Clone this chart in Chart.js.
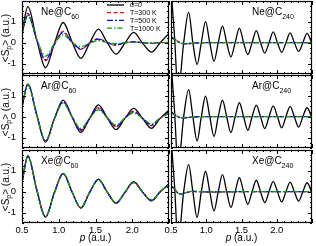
<!DOCTYPE html>
<html>
<head>
<meta charset="utf-8">
<script src="https://cdn.jsdelivr.net/npm/chart.js@4.4.1/dist/chart.umd.min.js"></script>
<style>
body { margin: 0; background: #fff; }
#fig { position: relative; width: 316px; height: 246px; overflow: hidden; font-family: 'Liberation Sans', Arial, sans-serif; color: #000; }
#fig canvas { position: absolute; }
.lbl { position: absolute; font-size: 10px; line-height: 10px; white-space: nowrap; }
.lbl sub { font-size: 7px; vertical-align: -4px; line-height: 0; }
.ytitle { position: absolute; font-size: 10px; line-height: 10px; white-space: nowrap; transform: translate(-50%, -50%) rotate(-90deg); }
.ytitle sub { font-size: 7px; vertical-align: -2px; line-height: 0; }
.xtitle { position: absolute; font-size: 10px; line-height: 10px; white-space: nowrap; transform: translateX(-50%); }
</style>
</head>
<body>
<div id="fig"></div>
<script>
// ---- data ----
const legendLabels = ['α=0', 'T=300 K', 'T=500 K', 'T=1000 K'];
const xTickLabels = [0.5, 1, 1.5, 2];
const yTickLabels = [-1, 0, 1];

// C60 panels: momentum grid (extrema + zero crossings)
const pLeft = [0.5, 0.58, 0.70, 0.82, 0.94, 1.06, 1.18, 1.30, 1.42, 1.54, 1.66, 1.78, 1.90, 2.02, 2.14, 2.26, 2.38, 2.50];
const neC60_a0    = [0.5, 1.73, 0.15, -1.2, -0.05, 0.97, 0.05, -0.75, -0.02, 0.65, 0.0, -0.55, -0.02, 0.5, -0.02, -0.45, 0.0, 0.45];
const neC60_T300  = [0.45, 1.41, 0.15, -0.86, -0.08, 0.54, 0.02, -0.32, -0.02, 0.2, 0.0, -0.12, 0.0, 0.05, 0.0, -0.03, 0.0, 0.01];
const neC60_T500  = [0.45, 1.35, 0.15, -0.82, -0.08, 0.49, 0.02, -0.3, -0.02, 0.17, 0.0, -0.1, 0.0, 0.04, 0.0, -0.02, 0.0, 0.01];
const neC60_T1000 = [0.45, 1.30, 0.18, -0.65, -0.05, 0.38, 0.02, -0.2, -0.02, 0.1, 0.0, -0.05, 0.0, 0.02, 0.0, -0.01, 0.0, 0.0];

const arC60_a0    = [0.5, 1.56, 0.1, -1.22, -0.1, 0.80, 0.0, -0.75, -0.08, 0.57, -0.05, -0.62, -0.08, 0.40, -0.08, -0.56, -0.08, 0.32];
const arC60_T300  = [0.5, 1.56, 0.1, -1.2, -0.1, 0.74, 0.0, -0.66, -0.08, 0.46, -0.05, -0.5, -0.07, 0.27, -0.07, -0.43, -0.07, 0.22];
const arC60_T500  = [0.5, 1.55, 0.1, -1.18, -0.1, 0.71, 0.0, -0.62, -0.08, 0.41, -0.05, -0.46, -0.07, 0.23, -0.07, -0.4, -0.07, 0.2];
const arC60_T1000 = [0.5, 1.52, 0.1, -1.15, -0.1, 0.65, 0.0, -0.56, -0.08, 0.33, -0.05, -0.4, -0.07, 0.18, -0.07, -0.35, -0.07, 0.16];

const xeC60_a0    = [0.45, 1.72, 0.1, -1.22, -0.05, 0.88, 0.0, -0.79, -0.03, 0.6, -0.02, -0.56, -0.03, 0.48, -0.02, -0.44, 0.0, 0.38];
const xeC60_T300  = [0.45, 1.71, 0.1, -1.21, -0.05, 0.87, 0.0, -0.77, -0.03, 0.58, -0.02, -0.54, -0.03, 0.46, -0.02, -0.42, 0.0, 0.36];
const xeC60_T500  = [0.45, 1.71, 0.1, -1.2, -0.05, 0.86, 0.0, -0.76, -0.03, 0.57, -0.02, -0.53, -0.03, 0.45, -0.02, -0.41, 0.0, 0.35];
const xeC60_T1000 = [0.45, 1.70, 0.1, -1.19, -0.05, 0.85, 0.0, -0.75, -0.03, 0.56, -0.02, -0.52, -0.03, 0.44, -0.02, -0.4, 0.0, 0.34];

// C240 panels: static curve on a fine grid, thermal curves on a coarse one
const pRight = [0.5, 0.55, 0.6, 0.68, 0.75, 0.81, 0.87, 0.93, 0.99, 1.05, 1.11, 1.17, 1.23, 1.29, 1.35, 1.41, 1.47, 1.53, 1.59, 1.65, 1.71, 1.77, 1.83, 1.89, 1.95, 2.01, 2.07, 2.13, 2.19, 2.25, 2.31, 2.37, 2.43, 2.5];
const pRightT = [0.5, 0.55, 0.6, 0.65, 0.7, 0.8, 0.9, 1.0, 1.5, 2.0, 2.5];

const neC240_a0    = [2.6, 0.3, -2.4, 0, 1.45, 0, -1.05, 0, 1.01, 0, -0.89, 0, 0.81, 0, -0.68, 0, 0.7, 0, -0.57, 0, 0.58, 0, -0.5, 0, 0.52, 0, -0.46, 0, 0.47, 0, -0.42, 0, 0.45, -0.05];
const neC240_T300  = [0.28, 0.2, 0.06, -0.03, -0.05, -0.03, -0.01, 0, 0, 0, 0];
const neC240_T500  = [0.26, 0.18, 0.05, -0.03, -0.05, -0.03, -0.01, 0, 0, 0, 0];
const neC240_T1000 = [0.22, 0.15, 0.04, -0.03, -0.04, -0.03, -0.01, 0, 0, 0, 0];

const arC240_a0    = [2.6, 0.3, -2.4, 0, 1.3, 0, -1.16, 0, 0.98, 0, -0.95, 0, 0.79, 0, -0.76, 0, 0.67, 0, -0.65, 0, 0.56, 0, -0.57, 0, 0.52, 0, -0.53, 0, 0.5, 0, -0.5, 0, 0.43, -0.05];
const arC240_T300  = [0.22, 0.12, 0.0, -0.06, -0.05, -0.02, 0, 0, 0, 0, 0];
const arC240_T500  = [0.2, 0.11, 0.0, -0.06, -0.05, -0.02, 0, 0, 0, 0, 0];
const arC240_T1000 = [0.18, 0.1, 0.0, -0.05, -0.04, -0.02, 0, 0, 0, 0, 0];

const xeC240_a0    = [2.6, 0.3, -2.4, 0, 1.3, 0, -1.24, 0, 0.98, 0, -0.92, 0, 0.82, 0, -0.76, 0, 0.67, 0, -0.6, 0, 0.55, 0, -0.52, 0, 0.5, 0, -0.49, 0, 0.46, 0, -0.45, 0, 0.43, -0.05];
const xeC240_T300  = [0.3, 0.15, -0.08, -0.13, -0.06, 0.02, 0, -0.02, 0, 0, 0];
const xeC240_T500  = [0.29, 0.14, -0.08, -0.12, -0.06, 0.02, 0, -0.01, 0, 0, 0];
const xeC240_T1000 = [0.28, 0.13, -0.07, -0.12, -0.05, 0.02, 0, -0.01, 0, 0, 0];

// ---- styling ----
const SERIES = [
    { color: '#000000', dash: [], order: 4 },
    { color: '#ff0000', dash: [4, 2.5], order: 3 },
    { color: '#0000ff', dash: [6, 2, 2, 2], order: 2 },
    { color: '#00a000', dash: [5, 2, 1.5, 2], order: 1 }
];
const FONT = "'Liberation Sans', Arial, sans-serif";
const ROW_TOP = [1, 75, 150];
const PLOT_H = 73;
const COL_PLOT = [{ left: 22, right: 169 }, { left: 171, right: 312 }];

const panels = [
    { row: 0, col: 0, atom: 'Ne', sub: '60',  xs: [pLeft, pLeft, pLeft, pLeft], ys: [neC60_a0, neC60_T300, neC60_T500, neC60_T1000] },
    { row: 0, col: 1, atom: 'Ne', sub: '240', xs: [pRight, pRightT, pRightT, pRightT], ys: [neC240_a0, neC240_T300, neC240_T500, neC240_T1000] },
    { row: 1, col: 0, atom: 'Ar', sub: '60',  xs: [pLeft, pLeft, pLeft, pLeft], ys: [arC60_a0, arC60_T300, arC60_T500, arC60_T1000] },
    { row: 1, col: 1, atom: 'Ar', sub: '240', xs: [pRight, pRightT, pRightT, pRightT], ys: [arC240_a0, arC240_T300, arC240_T500, arC240_T1000] },
    { row: 2, col: 0, atom: 'Xe', sub: '60',  xs: [pLeft, pLeft, pLeft, pLeft], ys: [xeC60_a0, xeC60_T300, xeC60_T500, xeC60_T1000] },
    { row: 2, col: 1, atom: 'Xe', sub: '240', xs: [pRight, pRightT, pRightT, pRightT], ys: [xeC240_a0, xeC240_T300, xeC240_T500, xeC240_T1000] }
];

// frame with inward ticks on all four sides
const framePlugin = {
    id: 'frame',
    afterDraw(chart) {
        const ctx = chart.ctx;
        const a = chart.chartArea;
        const x = chart.scales.x, y = chart.scales.y;
        ctx.save();
        ctx.setLineDash([]);
        ctx.strokeStyle = '#000';
        ctx.lineWidth = 1;
        ctx.beginPath();
        for (let k = 5; k <= 25; k++) {
            const px = Math.round(x.getPixelForValue(k / 10)) + 0.5;
            const len = k % 5 === 0 ? 4 : 2;
            ctx.moveTo(px, a.bottom); ctx.lineTo(px, a.bottom - len);
            ctx.moveTo(px, a.top); ctx.lineTo(px, a.top + len);
        }
        for (let k = -6; k <= 8; k++) {
            const py = Math.round(y.getPixelForValue(k / 4)) + 0.5;
            const len = k % 4 === 0 ? 4 : 2;
            ctx.moveTo(a.left, py); ctx.lineTo(a.left + len, py);
            ctx.moveTo(a.right, py); ctx.lineTo(a.right - len, py);
        }
        ctx.stroke();
        ctx.lineWidth = 1.2;
        ctx.strokeRect(a.left + 0.5, a.top + 0.5, a.right - a.left - 1, a.bottom - a.top - 1);
        ctx.restore();
    }
};

// legend drawn inside the first panel
const legendPlugin = {
    id: 'inlineLegend',
    afterDraw(chart) {
        const ctx = chart.ctx;
        ctx.save();
        legendLabels.forEach((txt, i) => {
            const yy = 5 + i * 7.7;
            ctx.strokeStyle = SERIES[i].color;
            ctx.lineWidth = 1.3;
            ctx.setLineDash(SERIES[i].dash);
            ctx.beginPath();
            ctx.moveTo(107, yy); ctx.lineTo(124, yy);
            ctx.stroke();
            ctx.setLineDash([]);
            ctx.fillStyle = '#000';
            ctx.font = (i === 0 ? 'italic ' : '') + '7px ' + FONT;
            ctx.textBaseline = 'middle';
            ctx.fillText(txt, 130, yy + 0.5);
        });
        ctx.restore();
    }
};

const fig = document.getElementById('fig');

panels.forEach((pn, idx) => {
    const bottomRow = pn.row === 2;
    const leftCol = pn.col === 0;
    const cx = leftCol ? 0 : 156;
    const cw = leftCol ? 170 : 160;
    const top = ROW_TOP[pn.row] - 1;
    const ch = bottomRow ? 246 - top : PLOT_H + 2;

    const c = document.createElement('canvas');
    c.width = cw; c.height = ch;
    c.style.left = cx + 'px'; c.style.top = top + 'px';
    fig.appendChild(c);

    const datasets = SERIES.map((s, i) => ({
        data: pn.xs[i].map((p, j) => ({ x: p, y: pn.ys[i][j] })),
        borderColor: s.color,
        borderDash: s.dash,
        borderWidth: 1.3,
        order: s.order,
        pointRadius: 0,
        cubicInterpolationMode: 'monotone',
        fill: false
    }));

    new Chart(c, {
        type: 'line',
        data: { datasets },
        options: {
            responsive: false,
            animation: false,
            devicePixelRatio: 1,
            events: [],
            layout: {
                padding: {
                    left: leftCol ? 0 : 15,
                    right: leftCol ? 1 : 4,
                    top: 1,
                    bottom: bottomRow ? 0 : 1
                }
            },
            plugins: { legend: { display: false }, tooltip: { enabled: false } },
            scales: {
                x: {
                    type: 'linear',
                    min: 0.5, max: 2.5,
                    display: bottomRow,
                    grid: { display: false, drawTicks: false },
                    border: { display: false },
                    ticks: { color: '#000', font: { family: FONT, size: 9.5 }, padding: 2, maxRotation: 0, autoSkip: false },
                    afterBuildTicks: ax => { ax.ticks = xTickLabels.map(v => ({ value: v })); },
                    afterFit: s => { if (bottomRow) { s.height = 23; s.paddingLeft = 0; s.paddingRight = 0; } }
                },
                y: {
                    type: 'linear',
                    min: -1.5, max: 2,
                    display: leftCol,
                    grid: { display: false, drawTicks: false },
                    border: { display: false },
                    ticks: { color: '#000', font: { family: FONT, size: 9.5 }, padding: 6 },
                    afterBuildTicks: ax => { ax.ticks = yTickLabels.map(v => ({ value: v })); },
                    afterFit: s => { if (leftCol) { s.width = 22; s.paddingTop = 0; s.paddingBottom = 0; } }
                }
            }
        },
        plugins: idx === 0 ? [framePlugin, legendPlugin] : [framePlugin]
    });

    // panel label
    const lab = document.createElement('div');
    lab.className = 'lbl';
    lab.innerHTML = pn.atom + '@C<sub>' + pn.sub + '</sub>';
    lab.style.left = (leftCol ? 41 : 252) + 'px';
    lab.style.top = (ROW_TOP[pn.row] + 5.5) + 'px';
    fig.appendChild(lab);

    // y title on left column
    if (leftCol) {
        const yt = document.createElement('div');
        yt.className = 'ytitle';
        yt.innerHTML = '&lt;S<sub>p</sub>&gt; (a.u.)';
        yt.style.left = '5.5px';
        yt.style.top = (ROW_TOP[pn.row] + PLOT_H / 2) + 'px';
        fig.appendChild(yt);
    }

    // x title under bottom row
    if (bottomRow) {
        const xt = document.createElement('div');
        xt.className = 'xtitle';
        xt.innerHTML = '<i>p</i> (a.u.)';
        xt.style.left = ((COL_PLOT[pn.col].left + COL_PLOT[pn.col].right) / 2) + 'px';
        xt.style.top = '233px';
        fig.appendChild(xt);
    }
});
</script>
</body>
</html>
